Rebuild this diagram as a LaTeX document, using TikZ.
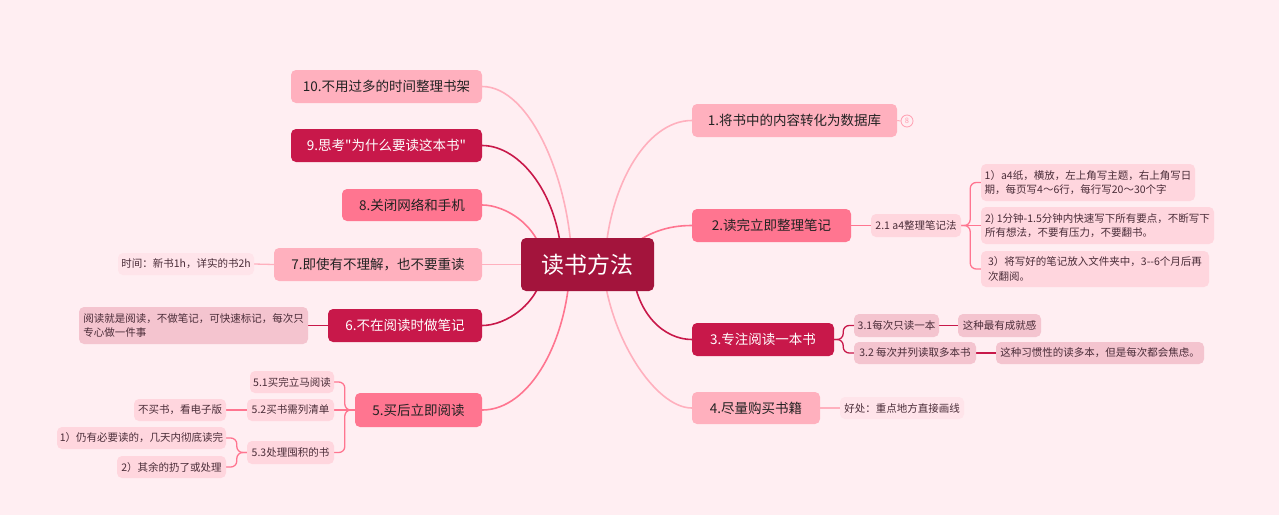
\documentclass[tikz,border=0pt]{standalone}
\usepackage{fontspec}
\setmainfont{Noto Sans CJK SC}
\newfontfamily\rawq{Noto Sans CJK SC}
\usetikzlibrary{backgrounds}
\definecolor{bg}{HTML}{FFEEF2}
\definecolor{ctr}{HTML}{A3143C}
\definecolor{crim}{HTML}{C8184A}
\definecolor{mid}{HTML}{FF7590}
\definecolor{lite}{HTML}{FFB0BE}
\definecolor{badge}{HTML}{FF9DB0}
\definecolor{subA}{HTML}{FFD6DE}
\definecolor{subB}{HTML}{F4C4CF}
\definecolor{subC}{HTML}{FFE4EA}
\definecolor{dk}{HTML}{222222}
\definecolor{subtxt}{HTML}{4A2C38}
\tikzset{
  mainbox/.style={rounded corners=5pt, inner sep=0pt, font=\fontsize{13.5}{16}\selectfont, text=dk},
  whitebox/.style={mainbox, text=white},
  subbox/.style={rounded corners=5pt, inner sep=0pt, font=\fontsize{10.5}{14.5}\selectfont, text=subtxt, align=left},
  conn/.style={line width=1.6pt},
  subconn/.style={line width=1.3pt, rounded corners=6pt},
}
\begin{document}
\begin{tikzpicture}[x=1pt,y=-1pt]
\useasboundingbox (0,0) rectangle (1279,515);
% central
\node[rounded corners=5pt, fill=ctr, text=white, inner sep=0pt, minimum width=133pt, minimum height=53pt, font=\fontsize{23}{26}\selectfont] (c) at (587.5,264.5) {读书方法};
% right branches
\node[mainbox, fill=lite, minimum width=205pt, minimum height=33pt] (n1) at (794.5,120.5) {1.将书中的内容转化为数据库};
\node[circle, draw=badge, line width=0.8pt, fill=bg, inner sep=0pt, minimum size=12pt, font=\fontsize{7.5}{8}\selectfont, text=badge] (b1) at (907,121) {8};
\node[mainbox, fill=mid, minimum width=159pt, minimum height=33pt] (n2) at (771.5,225.5) {2.读完立即整理笔记};
\node[whitebox, fill=crim, minimum width=142pt, minimum height=33pt] (n3) at (763,339.5) {3.专注阅读一本书};
\node[mainbox, fill=lite, minimum width=128pt, minimum height=32pt] (n4) at (756,408) {4.尽量购买书籍};
% left branches
\node[mainbox, fill=lite, minimum width=191pt, minimum height=33pt] (n10) at (386.5,86.5) {10.不用过多的时间整理书架};
\node[whitebox, fill=crim, minimum width=191pt, minimum height=33pt] (n9) at (386.5,145.5) {9.思考{\rawq"}为什么要读这本书{\rawq"}};
\node[mainbox, fill=mid, minimum width=140pt, minimum height=32pt] (n8) at (412,205) {8.关闭网络和手机};
\node[mainbox, fill=lite, minimum width=208pt, minimum height=33pt] (n7) at (378,264.5) {7.即使有不理解，也不要重读};
\node[whitebox, fill=crim, minimum width=154pt, minimum height=33pt] (n6) at (405,325.5) {6.不在阅读时做笔记};
\node[mainbox, fill=mid, minimum width=127pt, minimum height=34pt] (n5) at (418.5,410) {5.买后立即阅读};
% branch 2 subs
\node[subbox, fill=subA, minimum width=90pt, minimum height=23pt] (s21) at (916,225.5) {2.1 a4整理笔记法};
\node[subbox, fill=subA, minimum width=214pt, minimum height=37pt] (s21a) at (1088,182.5) {1）a4纸，横放，左上角写主题，右上角写日\\期，每页写4～6行，每行写20～30个字};
\node[subbox, fill=subA, minimum width=233pt, minimum height=37pt] (s21b) at (1097.5,225.5) {2) 1分钟-1.5分钟内快速写下所有要点，不断写下\\所有想法，不要有压力，不要翻书。};
\node[subbox, fill=subA, minimum width=228pt, minimum height=36pt] (s21c) at (1095,269) {3）将写好的笔记放入文件夹中，{\rawq 3--6}个月后再\\次翻阅。};
% branch 3 subs
\node[subbox, fill=subB, minimum width=85pt, minimum height=23pt] (s31) at (896.5,325.5) {3.1每次只读一本};
\node[subbox, fill=subB, minimum width=83pt, minimum height=23pt] (s31a) at (999.5,325.5) {这种最有成就感};
\node[subbox, fill=subB, minimum width=122pt, minimum height=22pt] (s32) at (915,353) {3.2 每次并列读取多本书};
\node[subbox, fill=subB, minimum width=208pt, minimum height=22pt] (s32a) at (1100,353) {这种习惯性的读多本，但是每次都会焦虑。};
% branch 4 sub
\node[subbox, fill=subC, minimum width=124pt, minimum height=22pt] (s41) at (902,408) {好处：重点地方直接画线};
% branch 7 sub
\node[subbox, fill=subC, minimum width=136pt, minimum height=22pt] (s71) at (186,264) {时间：新书1h，详实的书2h};
% branch 6 sub
\node[subbox, fill=subB, minimum width=229pt, minimum height=37pt] (s61) at (193.5,325.5) {阅读就是阅读，不做笔记，可快速标记，每次只\\专心做一件事};
% branch 5 subs
\node[subbox, fill=subA, minimum width=84pt, minimum height=22pt] (s51) at (292,382) {5.1买完立马阅读};
\node[subbox, fill=subA, minimum width=87pt, minimum height=22pt] (s52) at (290.5,410) {5.2买书需列清单};
\node[subbox, fill=subA, minimum width=87pt, minimum height=23pt] (s53) at (290.5,452.5) {5.3处理囤积的书};
\node[subbox, fill=subA, minimum width=92pt, minimum height=22pt] (s52a) at (180,410) {不买书，看电子版};
\node[subbox, fill=subA, minimum width=169pt, minimum height=22pt] (s53a) at (141.5,438) {1）仍有必要读的，几天内彻底读完};
\node[subbox, fill=subA, minimum width=109pt, minimum height=22pt] (s53b) at (171.5,467) {2）其余的扔了或处理};

\begin{pgfonlayer}{background}
\fill[bg] (0,0) rectangle (1279,515);
% center connectors
\draw[conn, lite] (n10.east) .. controls (530,86.5) and (570,180) .. (572,264.5);
\draw[conn, crim] (n9.east) .. controls (520,145.5) and (560,195) .. (562,264.5);
\draw[conn, mid] (n8.east) .. controls (505,205) and (540,225) .. (545,264.5);
\draw[conn, lite] (n7.east) -- (c.west);
\draw[conn, crim] (n6.east) .. controls (505,325.5) and (540,305) .. (545,264.5);
\draw[conn, mid] (n5.east) .. controls (530,410) and (568,340) .. (570,264.5);
\draw[conn, lite] (n1.west) .. controls (645,120.5) and (607,190) .. (605,264.5);
\draw[conn, mid] (n2.west) .. controls (668,225.5) and (645,232) .. (620,255);
\draw[conn, crim] (n3.west) .. controls (665,339.5) and (635,315) .. (632,264.5);
\draw[conn, lite] (n4.west) .. controls (655,408) and (608,335) .. (603,264.5);
% badge
\draw[line width=1pt, lite] (n1.east) -- (b1.west);
% branch 2
\draw[subconn, mid] (n2.east) -- (s21.west);
\draw[subconn, mid] (s21.east) -- ++(9,0) |- (s21a.west);
\draw[subconn, mid] (s21.east) -- (s21b.west);
\draw[subconn, mid] (s21.east) -- ++(9,0) |- (s21c.west);
% branch 3
\draw[subconn, crim] (n3.east) -- ++(9,0) |- (s31.west);
\draw[subconn, crim] (n3.east) -- ++(9,0) |- (s32.west);
\draw[subconn, crim] (s31.east) -- (s31a.west);
\draw[subconn, crim] (s32.east) -- (s32a.west);
% branch 4
\draw[subconn, lite] (n4.east) -- (s41.west);
% branch 7
\draw[subconn, lite] (n7.west) -- (s71.east);
% branch 6
\draw[subconn, crim] (n6.west) -- (s61.east);
% branch 5
\draw[subconn, mid] (n5.west) -- ++(-10,0) |- (s51.east);
\draw[subconn, mid] (n5.west) -- (s52.east);
\draw[subconn, mid] (n5.west) -- ++(-10,0) |- (s53.east);
\draw[subconn, mid] (s52.west) -- (s52a.east);
\draw[subconn, mid] (s53.west) -- ++(-10,0) |- (s53a.east);
\draw[subconn, mid] (s53.west) -- ++(-10,0) |- (s53b.east);
\end{pgfonlayer}
\end{tikzpicture}
\end{document}
